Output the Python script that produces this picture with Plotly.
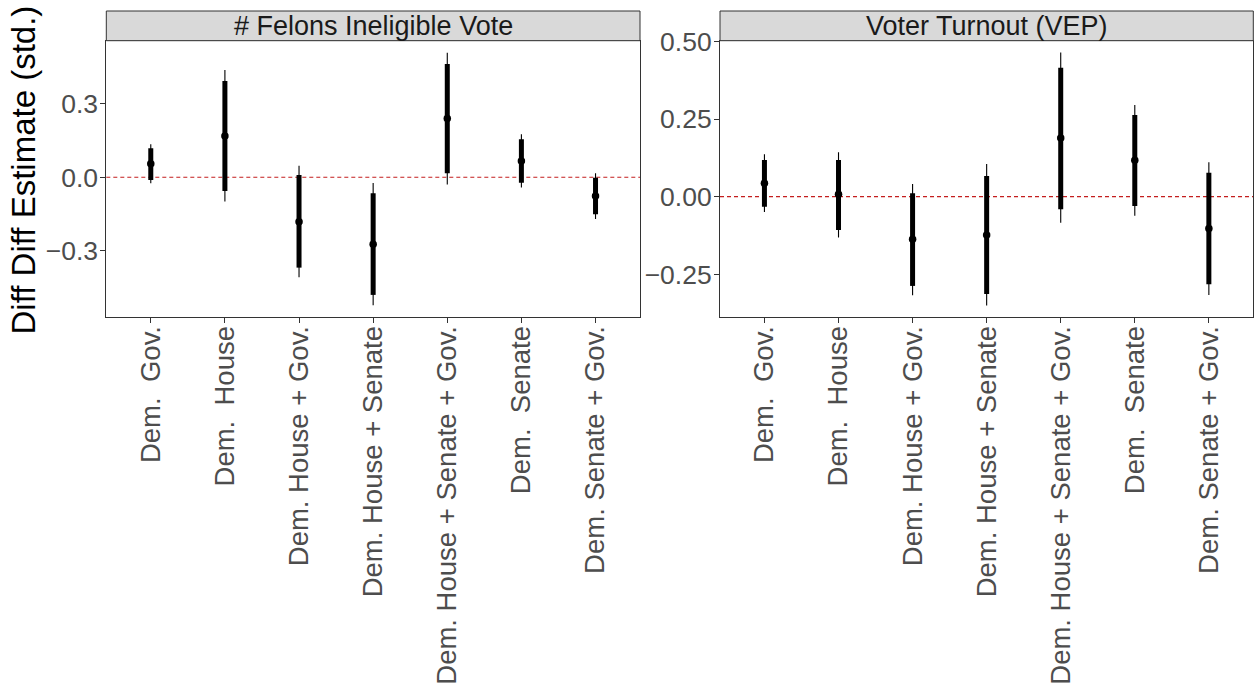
import plotly.graph_objects as go

categories = ["Dem.  Gov.", "Dem.  House", "Dem. House + Gov.", "Dem. House + Senate",
              "Dem. House + Senate + Gov.", "Dem.  Senate", "Dem. Senate + Gov."]

# Panel 1: # Felons Ineligible Vote
fel_est = [0.055, 0.168, -0.181, -0.273, 0.239, 0.066, -0.076]
fel_thick_hi = [0.118, 0.392, 0.009, -0.065, 0.461, 0.155, -0.002]
fel_thick_lo = [-0.011, -0.056, -0.368, -0.479, 0.016, -0.022, -0.151]
fel_thin_hi = [0.134, 0.437, 0.047, -0.023, 0.507, 0.175, 0.016]
fel_thin_lo = [-0.024, -0.099, -0.407, -0.521, -0.029, -0.042, -0.170]

# Panel 2: Voter Turnout (VEP)
vep_est = [0.043, 0.008, -0.137, -0.123, 0.189, 0.117, -0.102]
vep_thick_hi = [0.118, 0.118, 0.011, 0.067, 0.415, 0.263, 0.077]
vep_thick_lo = [-0.032, -0.107, -0.287, -0.313, -0.040, -0.030, -0.282]
vep_thin_hi = [0.137, 0.143, 0.041, 0.105, 0.464, 0.295, 0.111]
vep_thin_lo = [-0.049, -0.131, -0.317, -0.350, -0.084, -0.061, -0.316]

panel_titles = ["# Felons Ineligible Vote", "Voter Turnout (VEP)"]
y_title = "Diff Diff Estimate (std.)"

W, H = 1254, 689
FONT = "Liberation Sans, Arial, Helvetica, sans-serif"


def px_x(p):
    return p / W


def px_y(p):
    return 1 - p / H


fig = go.Figure()

panels = [
    (fel_est, fel_thick_hi, fel_thick_lo, fel_thin_hi, fel_thin_lo, "x", "y"),
    (vep_est, vep_thick_hi, vep_thick_lo, vep_thin_hi, vep_thin_lo, "x2", "y2"),
]

for est, thi, tlo, nhi, nlo, xa, ya in panels:
    # thin interval
    fig.add_trace(go.Scatter(
        x=categories, y=est, mode="markers", xaxis=xa, yaxis=ya,
        marker=dict(size=1, color="rgba(0,0,0,0)"),
        error_y=dict(type="data", symmetric=False,
                     array=[h - e for h, e in zip(nhi, est)],
                     arrayminus=[e - l for e, l in zip(est, nlo)],
                     thickness=1.1, width=0, color="black"),
        showlegend=False, hoverinfo="skip"))
    # thick interval
    fig.add_trace(go.Scatter(
        x=categories, y=est, mode="markers", xaxis=xa, yaxis=ya,
        marker=dict(size=1, color="rgba(0,0,0,0)"),
        error_y=dict(type="data", symmetric=False,
                     array=[h - e for h, e in zip(thi, est)],
                     arrayminus=[e - l for e, l in zip(est, tlo)],
                     thickness=5, width=0, color="black"),
        showlegend=False, hoverinfo="skip"))
    # point estimate
    fig.add_trace(go.Scatter(
        x=categories, y=est, mode="markers", xaxis=xa, yaxis=ya,
        marker=dict(size=7.5, color="black"),
        showlegend=False))

x1_dom = [px_x(106.3), px_x(640)]
x2_dom = [px_x(720), px_x(1253.3)]
y_dom = [px_y(317), px_y(40.7)]
strip_top = px_y(11)

common_x = dict(
    type="category", range=[-0.6, 6.6], tickangle=-90, automargin=False,
    showline=True, linecolor="#333333", linewidth=1, mirror=True,
    ticks="outside", ticklen=5, tickcolor="#333333", tickwidth=1,
    ticklabelstandoff=-8,
    showgrid=False, zeroline=False,
    tickfont=dict(family=FONT, size=27.5, color="#4D4D4D"),
)
common_y = dict(
    showline=True, linecolor="#333333", linewidth=1, mirror=True, automargin=False,
    ticks="outside", ticklen=5, tickcolor="#333333", tickwidth=1,
    ticklabelstandoff=-3,
    showgrid=False, zeroline=False, domain=y_dom,
    tickfont=dict(family=FONT, size=26.5, color="#4D4D4D"),
)

fig.update_layout(
    width=W, height=H,
    margin=dict(l=0, r=0, t=0, b=0, autoexpand=False),
    paper_bgcolor="white", plot_bgcolor="white",
    xaxis=dict(common_x, domain=x1_dom, anchor="y"),
    yaxis=dict(common_y, anchor="x", range=[-0.569, 0.556],
               tickvals=[-0.3, 0.0, 0.3], tickformat=".1f"),
    xaxis2=dict(common_x, domain=x2_dom, anchor="y2"),
    yaxis2=dict(common_y, anchor="x2", range=[-0.387, 0.502],
                tickvals=[-0.25, 0.0, 0.25, 0.50], tickformat=".2f"),
)

# zero reference lines
for xa, ya in [("x", "y"), ("x2", "y2")]:
    fig.add_shape(type="line", xref=f"{xa} domain", yref=ya, x0=0, x1=1, y0=0, y1=0,
                  line=dict(color="#C41E1E", width=1.2, dash="4px,3px"), layer="below")

# strips
for dom, title in zip([x1_dom, x2_dom], panel_titles):
    fig.add_shape(type="rect", xref="paper", yref="paper",
                  x0=dom[0], x1=dom[1], y0=y_dom[1], y1=strip_top,
                  fillcolor="#D9D9D9", line=dict(color="#333333", width=1))
    fig.add_annotation(xref="paper", yref="paper", x=(dom[0] + dom[1]) / 2,
                       y=(y_dom[1] + strip_top) / 2, text=title, showarrow=False,
                       xanchor="center", yanchor="middle",
                       font=dict(family=FONT, size=27, color="#1A1A1A"))

# y axis title
fig.add_annotation(xref="paper", yref="paper", x=px_x(22.5), y=px_y(170),
                   text=y_title, textangle=-90, showarrow=False,
                   xanchor="center", yanchor="middle",
                   font=dict(family=FONT, size=33, color="black"))

fig.write_html(
    "out.html",
    config={"displayModeBar": False},
    post_script="document.body.style.margin='0';document.body.style.overflow='hidden';",
)
